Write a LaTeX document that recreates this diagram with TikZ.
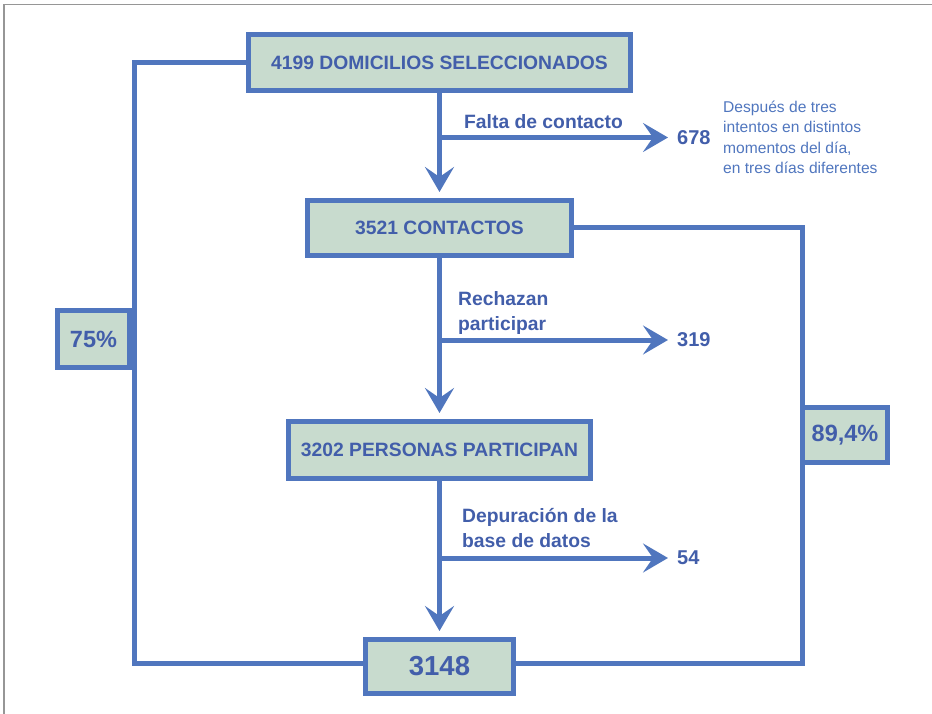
\documentclass[tikz,border=0pt]{standalone}
\usepackage{fontspec}
\setmainfont{Liberation Sans}
\usetikzlibrary{arrows.meta}
\definecolor{lineblue}{RGB}{80,118,190}
\definecolor{txtblue}{RGB}{66,94,170}
\definecolor{boxgreen}{RGB}{200,219,206}
\definecolor{framegray}{RGB}{150,150,150}
\tikzset{%
	box/.style      = {draw = lineblue, line width = 5pt, fill = boxgreen, text = txtblue, inner sep = 0pt, font = \bfseries\fontsize{19.3}{23}\selectfont},
	pctbox/.style   = {box, font = \bfseries\fontsize{23.5}{28}\selectfont}, % Percent box
	finbox/.style   = {box, font = \bfseries\fontsize{27.5}{32}\selectfont}, % Final count
	lbl/.style      = {text = txtblue, inner sep = 0pt, align = left, font = \bfseries\fontsize{19.3}{25}\selectfont},
	num/.style      = {text = txtblue, inner sep = 0pt, anchor = west, font = \bfseries\fontsize{20}{24}\selectfont},
	note/.style     = {text = lineblue, inner sep = 0pt, align = left, font = \fontsize{15.6}{20.5}\selectfont},
	link/.style     = {draw = lineblue, line width = 5pt}, % Connector
	arr/.style      = {link, -{Stealth[length = 25pt, width = 29pt, inset = 10pt]}}
}

\begin{document}
\begin{tikzpicture}[x = 1pt, y = -1pt]
	\useasboundingbox (0, 0) rectangle (932, 714);
	\draw[framegray, line width = 1.5pt] (4, 714) -- (4, 4.5) -- (932, 4.5);

	\draw % Drawing the boxes
	node at (439.5, 62.5) [box, minimum width = 382, minimum height = 56] (dom) {4199 DOMICILIOS SELECCIONADOS}
	node at (439.5, 228) [box, minimum width = 264, minimum height = 55] (cont) {3521 CONTACTOS}
	node at (439.5, 450) [box, minimum width = 302, minimum height = 57] (part) {3202 PERSONAS PARTICIPAN}
	node at (439.5, 666.5) [finbox, minimum width = 148, minimum height = 54] (fin) {3148}
	node at (93.5, 339) [pctbox, minimum width = 72, minimum height = 57] (p75) {75\%}
	node at (845, 435) [pctbox, minimum width = 85, minimum height = 55] (p894) {89,4\%}
	node at (464, 121.5) [lbl, anchor = west] (falta) {Falta de contacto}
	node at (458, 291.5) [lbl, anchor = north west] (rech) {Rechazan\\participar}
	node at (462, 508) [lbl, anchor = north west] (depu) {Depuración de la\\base de datos}
	node at (677, 137.5) [num] (n678) {678}
	node at (677, 340) [num] (n319) {319}
	node at (677, 558) [num] (n54) {54}
	node at (723, 137.5) [note, anchor = west] (nota) {Después de tres\\intentos en distintos\\momentos del día,\\en tres días diferentes}
	;
	\coordinate (lc) at (134, 663);
	\coordinate (rc) at (802.5, 663);

	% Drawing the arrows
	\draw[arr, shorten >= 6pt] (dom) -- (cont);
	\draw[arr, shorten >= 6pt] (cont) -- (part);
	\draw[arr, shorten >= 6pt] (part) -- (fin);
	\draw[arr, shorten >= 9pt] (dom.south |- n678.west) -- (n678.west);
	\draw[arr, shorten >= 9pt] (cont.south |- n319.west) -- (n319.west);
	\draw[arr, shorten >= 9pt] (part.south |- n54.west) -- (n54.west);
	\draw[link] (dom.west) -| (lc) -- (lc -| fin.west);
	\draw[link] (cont.east) -| (rc) -- (rc -| fin.east);
\end{tikzpicture}
\end{document}
